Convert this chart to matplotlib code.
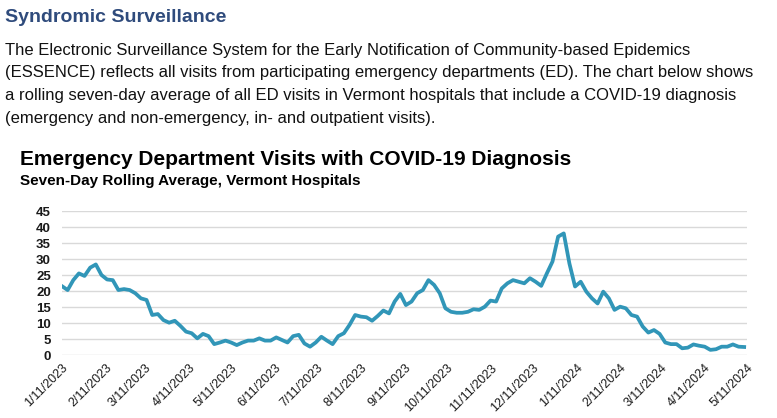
import numpy as np
import pandas as pd
import matplotlib
matplotlib.use("Agg")
import matplotlib.pyplot as plt

# seven-day rolling average, read every 4 days starting 1/11/2023
start_date = "2023-01-11"
visits = [
    21.5, 20.3, 23.4, 25.5, 24.7, 27.3, 28.3, 25.0, 23.6, 23.4,
    20.3, 20.6, 20.3, 19.3, 17.7, 17.2, 12.5, 12.8, 10.9, 10.1,
    10.7, 9.1, 7.3, 6.8, 5.2, 6.6, 5.9, 3.4, 3.9, 4.5,
    3.9, 3.1, 3.9, 4.5, 4.5, 5.2, 4.5, 4.5, 5.5, 4.7,
    3.9, 5.9, 6.3, 3.6, 2.6, 3.9, 5.7, 4.5, 3.4, 5.9,
    6.8, 9.4, 12.5, 12.0, 11.8, 10.7, 12.2, 13.9, 13.0, 16.7,
    19.1, 15.6, 16.7, 19.3, 20.3, 23.4, 21.9, 19.3, 14.6, 13.5,
    13.2, 13.2, 13.5, 14.3, 14.1, 15.1, 17.0, 16.7, 20.8, 22.4,
    23.4, 22.9, 22.4, 24.0, 22.9, 21.6, 25.5, 29.2, 37.0, 38.0,
    28.6, 21.4, 22.9, 19.8, 17.7, 16.1, 19.8, 17.7, 14.1, 15.1,
    14.6, 12.5, 12.0, 8.9, 7.0, 7.8, 6.6, 3.9, 3.4, 3.4,
    2.1, 2.3, 3.3, 2.9, 2.6, 1.6, 1.8, 2.6, 2.6, 3.3,
    2.6, 2.5,
]
tick_dates = ["2023-01-11", "2023-02-11", "2023-03-11", "2023-04-11", "2023-05-11",
              "2023-06-11", "2023-07-11", "2023-08-11", "2023-09-11", "2023-10-11",
              "2023-11-11", "2023-12-11", "2024-01-11", "2024-02-11", "2024-03-11",
              "2024-04-11", "2024-05-11"]
y_ticks = [0, 5, 10, 15, 20, 25, 30, 35, 40, 45]

heading = "Syndromic Surveillance"
body_lines = [
    "The Electronic Surveillance System for the Early Notification of Community-based Epidemics",
    "(ESSENCE) reflects all visits from participating emergency departments (ED). The chart below shows",
    "a rolling seven-day average of all ED visits in Vermont hospitals that include a COVID-19 diagnosis",
    "(emergency and non-emergency, in- and outpatient visits).",
]
title = "Emergency Department Visits with COVID-19 Diagnosis"
subtitle = "Seven-Day Rolling Average, Vermont Hospitals"

dates = pd.date_range(start_date, periods=len(visits), freq="4D")
ticks = pd.to_datetime(tick_dates)
tick_labels = [f"{t.month}/{t.day}/{t.year}" for t in ticks]

font = ["Liberation Sans", "DejaVu Sans"]
W, H = 777, 418
fig = plt.figure(figsize=(W / 100, H / 100), dpi=100)

def px(x, y):
    return x / W, 1 - y / H

fig.text(*px(5, 22), heading, family=font, weight="bold",
         fontsize=14, color="#2f4b7c", va="baseline")
for i, line in enumerate(body_lines):
    fig.text(*px(5, 55 + i * 22.5), line, family=font,
             fontsize=12, color="#111111", va="baseline")
fig.text(*px(20, 165), title, family=font, weight="bold",
         fontsize=15, color="black", va="baseline")
fig.text(*px(20, 185), subtitle, family=font, weight="bold",
         fontsize=11, color="black", va="baseline")

ax = fig.add_axes([62 / W, 1 - 355 / H, (747 - 62) / W, (355 - 211) / H])
ax.plot(dates, visits, color="#3196b8", lw=2.7, solid_joinstyle="round")
ax.set_ylim(0, 45)
ax.set_xlim(ticks[0], ticks[-1])
ax.set_yticks(y_ticks)
ax.set_yticklabels([str(v) for v in y_ticks], family=font,
                   fontsize=9.5, weight="bold", color="#1a1a1a")
ax.set_xticks(ticks)
ax.set_xticklabels(tick_labels, rotation=45, ha="right", rotation_mode="anchor",
                   family=font, fontsize=9, color="#1a1a1a")
ax.grid(axis="y", color="#d9d9d9", lw=1)
ax.set_axisbelow(True)
ax.tick_params(axis="y", length=0, pad=8)
ax.tick_params(axis="x", length=0, pad=5)
for s in ax.spines.values():
    s.set_visible(False)

fig.savefig("out.png", dpi=100)
